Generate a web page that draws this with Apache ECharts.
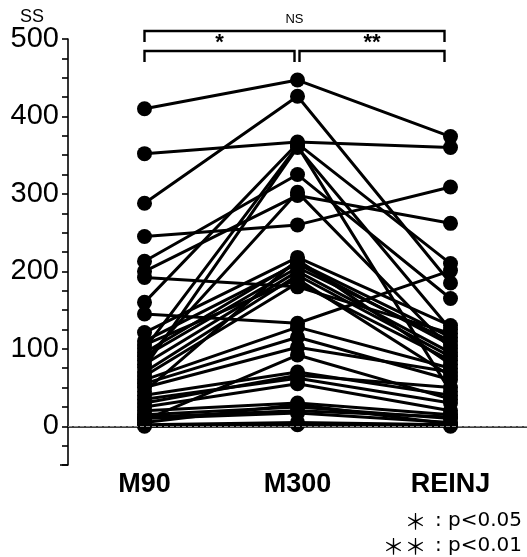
<!DOCTYPE html>
<html>
<head>
<meta charset="utf-8">
<script src="https://cdn.jsdelivr.net/npm/echarts@6/dist/echarts.min.js"></script>
<style>
  html, body { margin: 0; padding: 0; background: #fff; }
  #chart { width: 527px; height: 557px; }
</style>
</head>
<body>
<div id="chart"></div>
<script>
// Time points on the x axis
const categories = ['M90', 'M300', 'REINJ'];

// SS score of each subject at each time point (same subject order in all three)
const m90Values   = [410, 352, 288, 245, 213, 200, 192, 160, 145, 121, 100, 95, 90, 85, 80, 76, 70, 65, 60, 55, 50, 45, 40, 35, 30, 25, 20, 15, 10, 5, 2, 0, 8, 110, 12, 105];
const m300Values  = [447, 367, 426, 260, 325, 298, 180, 365, 133, 218, 362, 212, 205, 302, 200, 360, 195, 185, 128, 115, 102, 215, 70, 62, 66, 55, 30, 25, 17, 28, 5, 2, 92, 210, 20, 190];
const reinjValues = [374, 360, 185, 309, 165, 262, 120, 210, 201, 130, 45, 115, 110, 100, 95, 125, 90, 85, 75, 60, 70, 80, 40, 30, 50, 20, 15, 10, 5, 3, 2, 0, 35, 105, 12, 65];

// Y axis tick labels
const yTickLabels = [0, 100, 200, 300, 400, 500];

// Significance brackets: [from category, to category, label]
const brackets = [
  ['M90', 'REINJ', 'NS'],
  ['M90', 'M300', '*'],
  ['M300', 'REINJ', '**']
];
// significance legend: [stars, meaning]
const footnotes = [['＊', ' : p<0.05'], ['＊＊', ' : p<0.01']];

const FONT = 'Liberation Sans, Arial, sans-serif';
const chart = echarts.init(document.getElementById('chart'), null, { renderer: 'canvas' });

const subjectSeries = m90Values.map((v, i) => ({
  type: 'line',
  data: [v, m300Values[i], reinjValues[i]],
  symbol: 'circle',
  symbolSize: 15,
  showSymbol: true,
  animation: false,
  z: 3,
  lineStyle: { color: '#000', width: 3 },
  itemStyle: { color: '#000' },
  emphasis: { disabled: true }
}));

// thin dashed reference line at zero
const zeroLine = {
  type: 'line',
  data: [],
  z: 1,
  silent: true,
  markLine: {
    silent: true,
    symbol: 'none',
    animation: false,
    label: { show: false },
    lineStyle: { color: '#888', type: [4, 2], width: 1 },
    data: [{ yAxis: 0 }]
  }
};

chart.setOption({
  animation: false,
  backgroundColor: '#fff',
  grid: { left: 68, right: 0, top: 39, bottom: 92 },
  xAxis: {
    type: 'category',
    data: categories,
    boundaryGap: true,
    axisLine: { lineStyle: { color: '#000', width: 1.6 } },
    axisTick: { alignWithLabel: true, length: 4, lineStyle: { color: '#000', width: 1.6 } },
    axisLabel: {
      color: '#000',
      fontFamily: FONT,
      fontWeight: 'bold',
      fontSize: 27,
      margin: 6
    },
    splitLine: { show: false }
  },
  yAxis: {
    type: 'value',
    min: -50,
    max: 500,
    interval: 25,
    axisLine: { show: true, lineStyle: { color: '#000', width: 1.6 } },
    axisTick: { show: true, length: 6, lineStyle: { color: '#000', width: 1.6 } },
    axisLabel: {
      color: '#000',
      fontFamily: FONT,
      fontSize: 29,
      margin: 9,
      formatter: v => (yTickLabels.indexOf(v) >= 0 ? String(v) : '')
    },
    splitLine: { show: false }
  },
  series: [zeroLine].concat(subjectSeries)
});

// Annotations placed from the axis scales
function px(cat, val) {
  return chart.convertToPixel({ gridIndex: 0 }, [cat, val]);
}
const x0 = px('M90', 0)[0];
const x1 = px('M300', 0)[0];
const x2 = px('REINJ', 0)[0] - 6;
const topY = px('M90', 500)[1];
const graphics = [];

function bracket(xa, xb, y, drop, label, labelSize, bold, dy) {
  graphics.push({
    type: 'polyline',
    shape: { points: [[xa, y + drop], [xa, y], [xb, y], [xb, y + drop]] },
    style: { stroke: '#000', lineWidth: 2.4, fill: null }
  });
  graphics.push({
    type: 'text',
    x: (xa + xb) / 2,
    y: y - dy,
    style: {
      text: label, fill: '#000', fontSize: labelSize,
      fontFamily: FONT, fontWeight: bold ? 'bold' : 'normal',
      align: 'center', verticalAlign: 'bottom'
    }
  });
}
bracket(x0, x2, topY - 8, 11, brackets[0][2], 13, false, 5);
bracket(x0, x1 - 3, topY + 12, 11, brackets[1][2], 22, true, -3);
bracket(x1 + 2, x2, topY + 12, 11, brackets[2][2], 22, true, -3);

// axis title
graphics.push({
  type: 'text', x: 32, y: 17,
  style: { text: 'SS', fill: '#000', fontSize: 18, fontFamily: FONT, align: 'center', verticalAlign: 'middle' }
});
// short extension of the baseline left of the y axis
const baseY = px('M90', -50)[1];
graphics.push({
  type: 'line', shape: { x1: 60, y1: baseY, x2: 68, y2: baseY },
  style: { stroke: '#000', lineWidth: 1.6 }
});
// significance legend
footnotes.forEach((t, i) => {
  graphics.push({
    type: 'text', x: 522, y: 521 + i * 25,
    style: {
      text: '{s|' + t[0] + '}{t|' + t[1] + '}',
      align: 'right', verticalAlign: 'middle',
      rich: {
        s: { fontSize: 22, fill: '#000', fontFamily: 'Noto Sans CJK JP, sans-serif', padding: [0, 2, 0, 0] },
        t: { fontSize: 20, fill: '#000', fontFamily: 'DejaVu Sans, sans-serif' }
      }
    }
  });
});
chart.setOption({ graphic: graphics });
</script>
</body>
</html>
